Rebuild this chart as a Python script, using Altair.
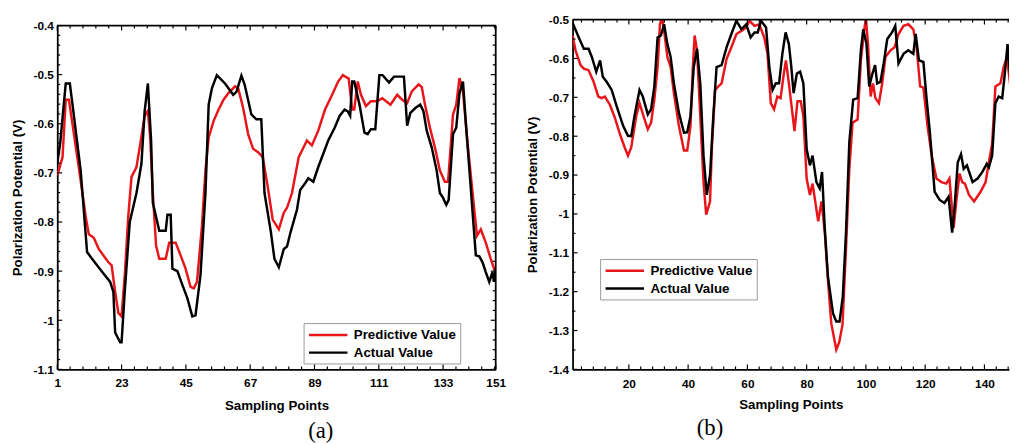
import altair as alt
import pandas as pd

# ---------------- data ----------------
series_names = ["Predictive Value", "Actual Value"]

# panel (a)
a_pred_x = [1, 2.8, 3.9, 5, 6.7, 9, 10.7, 11.8, 13.5, 15.2, 16.8, 18.5, 19.6, 20.8, 21.9, 23, 24.1, 25.3,
            26.4, 28.1, 29.4, 30.9, 32, 32.8, 33.7, 34.8, 35.9, 38.1, 39.3, 41.5, 43.2, 44.9, 46.6, 47.7,
            48.8, 50.5, 51.7, 52.8, 54.5, 56.2, 57.9, 59.5, 61.8, 62.9, 64.6, 66.3, 68, 69.7, 71.3, 73,
            74.7, 76.8, 78.5, 79.6, 81.3, 83.6, 84.7, 86.4, 88.1, 90.3, 92.6, 94.8, 97.1, 98.7, 100.7,
            101.9, 102.6, 103.8, 104.9, 106.6, 108.3, 110.5, 112.2, 115, 117.3, 119, 120.7, 122.3, 124.6,
            125.7, 126.8, 128.5, 130.2, 131.9, 133.6, 134.7, 136.4, 137.5, 138.6, 139.8, 141.4, 143.1,
            144.6, 145.9, 147.6, 149.3, 151]
a_pred_y = [-0.705, -0.668, -0.551, -0.551, -0.621, -0.715, -0.788, -0.825, -0.832, -0.855, -0.868, -0.882,
            -0.888, -0.942, -0.985, -0.992, -0.908, -0.788, -0.708, -0.688, -0.641, -0.584, -0.574, -0.628,
            -0.741, -0.848, -0.875, -0.875, -0.842, -0.842, -0.868, -0.895, -0.932, -0.935, -0.922, -0.808,
            -0.695, -0.628, -0.594, -0.571, -0.551, -0.538, -0.524, -0.528, -0.568, -0.621, -0.651, -0.658,
            -0.668, -0.728, -0.795, -0.815, -0.781, -0.771, -0.741, -0.668, -0.655, -0.634, -0.644, -0.614,
            -0.571, -0.544, -0.514, -0.501, -0.508, -0.571, -0.571, -0.514, -0.541, -0.564, -0.554, -0.554,
            -0.548, -0.561, -0.541, -0.551, -0.558, -0.534, -0.520, -0.525, -0.561, -0.608, -0.648, -0.695,
            -0.718, -0.718, -0.581, -0.561, -0.507, -0.534, -0.641, -0.741, -0.828, -0.815, -0.842, -0.875,
            -0.905]
a_act_x = [1, 2, 3.9, 5.3, 6.2, 9, 11.2, 12.9, 14.6, 16.8, 19.1, 20.2, 20.8, 22.5, 23, 24.1, 25.8, 28.1,
           29.8, 30.9, 32, 33.1, 33.7, 35.9, 38.1, 38.7, 39.8, 40.4, 42.1, 43.8, 45.5, 47.2, 48.3, 50, 51.7,
           52.8, 53.9, 55.6, 58.4, 61.2, 62.3, 64, 65.1, 67.4, 69.1, 70.8, 71.9, 74.1, 75.3, 76.8, 78.5,
           79.6, 80.8, 83, 84.1, 85.8, 86.9, 88.6, 90.3, 92, 93.7, 95.9, 97.6, 99.3, 100.4, 101.2, 101.9,
           102.6, 104.4, 106.1, 107.2, 108.3, 109.8, 111.2, 112.3, 114.5, 116.2, 119.6, 120.7, 121.8, 123.5,
           125.2, 126.3, 127.4, 129.1, 130.8, 131.9, 133, 134.1, 134.9, 136.4, 137.5, 138.6, 139.8, 140.9,
           142.6, 144.2, 145.4, 146.5, 147.6, 148.8, 149.9, 150.4, 151]
a_act_y = [-0.68, -0.64, -0.518, -0.518, -0.56, -0.695, -0.861, -0.875, -0.888, -0.905, -0.922, -0.942,
           -1.025, -1.045, -1.045, -0.941, -0.80, -0.741, -0.681, -0.574, -0.518, -0.634, -0.761, -0.818,
           -0.818, -0.785, -0.785, -0.895, -0.90, -0.928, -0.955, -0.992, -0.99, -0.908, -0.741, -0.561,
           -0.528, -0.501, -0.518, -0.541, -0.535, -0.502, -0.52, -0.581, -0.591, -0.591, -0.741, -0.821,
           -0.875, -0.892, -0.855, -0.85, -0.821, -0.775, -0.735, -0.721, -0.711, -0.718, -0.688, -0.661,
           -0.634, -0.608, -0.584, -0.571, -0.575, -0.584, -0.514, -0.514, -0.561, -0.618, -0.621, -0.611,
           -0.611, -0.501, -0.501, -0.516, -0.504, -0.504, -0.604, -0.578, -0.568, -0.561, -0.575, -0.614,
           -0.648, -0.695, -0.741, -0.751, -0.765, -0.755, -0.621, -0.608, -0.538, -0.514, -0.608, -0.741,
           -0.868, -0.87, -0.882, -0.902, -0.922, -0.902, -0.922, -0.895]

# panel (b)
b_pred_x = [1, 2, 3.7, 4.8, 6.4, 8.1, 9.7, 10.8, 11.9, 13.6, 15.3, 17, 18.6, 19.7, 20.8, 22.5, 23.6, 25.3,
            26.4, 27.5, 28.6, 29.7, 30.5, 31.2, 31.9, 33, 34.1, 35.2, 36.9, 38.6, 39.7, 40.8, 41.6, 42.2,
            43, 44.1, 45.2, 46.1, 47.4, 48, 49.1, 50.2, 51.3, 53, 54.6, 56.3, 58, 59.6, 60.7, 62.4, 64,
            65.7, 66.8, 67.9, 69, 70.1, 71.2, 72.3, 73, 74, 75.9, 76.9, 78, 78.9, 80, 81.1, 82, 83.9, 85,
            86.1, 87.2, 88.3, 90, 91, 92.1, 93.3, 94.4, 95.5, 97.2, 98.3, 99.4, 100, 100.7, 101.6, 102.4,
            103.2, 104.4, 105.5, 106.6, 108.3, 109.7, 111, 112.7, 114.3, 116, 117.1, 118.3, 119.4, 120.8,
            122.2, 123.8, 125.5, 127.1, 128.2, 129.6, 130.5, 131.6, 132.5, 133.4, 134.8, 136.5, 138.7,
            140.4, 141.5, 142.6, 143.7, 145.4, 146.5, 147.6, 148.9]
b_pred_y = [-0.541, -0.579, -0.617, -0.626, -0.63, -0.66, -0.698, -0.702, -0.698, -0.719, -0.753, -0.795,
            -0.829, -0.85, -0.829, -0.748, -0.715, -0.757, -0.782, -0.765, -0.706, -0.622, -0.512, -0.495,
            -0.529, -0.596, -0.622, -0.689, -0.774, -0.837, -0.837, -0.774, -0.622, -0.541, -0.579, -0.748,
            -0.918, -1.002, -0.968, -0.833, -0.681, -0.672, -0.664, -0.601, -0.571, -0.537, -0.529, -0.52,
            -0.503, -0.516, -0.512, -0.546, -0.588, -0.715, -0.731, -0.698, -0.702, -0.639, -0.605, -0.664,
            -0.787, -0.71, -0.71, -0.748, -0.909, -0.951, -0.922, -1.019, -0.968, -1.044, -1.171, -1.281,
            -1.349, -1.33, -1.285, -1.086, -0.884, -0.765, -0.757, -0.605, -0.529, -0.495, -0.563, -0.698,
            -0.664, -0.702, -0.715, -0.664, -0.596, -0.579, -0.571, -0.537, -0.516, -0.512, -0.525, -0.571,
            -0.672, -0.675, -0.774, -0.85, -0.909, -0.918, -0.922, -0.909, -1.036, -0.968, -0.896, -0.918,
            -0.922, -0.951, -0.968, -0.943, -0.918, -0.867, -0.82, -0.672, -0.664, -0.622, -0.596, -0.681]
b_act_x = [1, 3.1, 4.8, 6.4, 7.5, 9, 10.3, 11.2, 12.5, 14.2, 15.9, 18.1, 19.7, 20.8, 21.9, 23.6, 24.7,
           26.4, 27.5, 28.6, 29.7, 30.8, 31.9, 33, 34.1, 35.2, 36.9, 38.6, 39.7, 40.8, 41.9, 43, 44.1, 45.2,
           46.3, 47.4, 48.5, 49.6, 51.3, 53, 54.6, 56.3, 58, 59.6, 61.1, 62.4, 63.5, 64.6, 66.3, 67.4, 68.5,
           69.6, 70.7, 71.8, 72.9, 74, 74.8, 75.6, 76.7, 77.8, 78.9, 80, 81.1, 82, 83.3, 84.4, 85.2, 86.1,
           87.2, 88.9, 90, 91.1, 92.2, 93.3, 94.4, 95.7, 97.2, 98.3, 99.1, 100.2, 101.1, 102.2, 103.1,
           103.8, 104.9, 106, 107.2, 108.8, 109.9, 111, 112.7, 114.3, 116, 116.8, 117.9, 119.4, 120.5,
           121.6, 123.2, 124.9, 126.5, 127.9, 129.1, 129.9, 131, 132.1, 133, 134.1, 136, 137.7, 139.3,
           140.8, 141.5, 142.6, 143.7, 144.8, 146, 147, 147.8, 148.9]
b_act_y = [-0.508, -0.546, -0.575, -0.575, -0.596, -0.634, -0.605, -0.647, -0.66, -0.681, -0.723, -0.774,
           -0.799, -0.80, -0.748, -0.681, -0.698, -0.744, -0.731, -0.672, -0.546, -0.541, -0.512, -0.563,
           -0.596, -0.664, -0.74, -0.791, -0.79, -0.748, -0.622, -0.575, -0.664, -0.85, -0.951, -0.90,
           -0.748, -0.622, -0.617, -0.571, -0.537, -0.503, -0.525, -0.512, -0.546, -0.533, -0.533, -0.503,
           -0.52, -0.622, -0.681, -0.664, -0.664, -0.588, -0.533, -0.563, -0.62, -0.689, -0.639, -0.634,
           -0.664, -0.833, -0.875, -0.85, -0.918, -0.934, -0.892, -1.036, -1.163, -1.256, -1.277, -1.277,
           -1.213, -1.044, -0.816, -0.706, -0.702, -0.579, -0.525, -0.563, -0.672, -0.639, -0.617, -0.664,
           -0.66, -0.613, -0.55, -0.533, -0.516, -0.613, -0.588, -0.579, -0.588, -0.537, -0.605, -0.609,
           -0.706, -0.791, -0.943, -0.964, -0.972, -0.956, -1.048, -0.985, -0.867, -0.846, -0.884, -0.875,
           -0.918, -0.909, -0.892, -0.871, -0.88, -0.85, -0.715, -0.698, -0.702, -0.630, -0.563, -0.664]

# tick labels
a_xticks = [1, 23, 45, 67, 89, 111, 133, 151]
a_yticks = [-1.1, -1.0, -0.9, -0.8, -0.7, -0.6, -0.5, -0.4]
b_xticks = [20, 40, 60, 80, 100, 120, 140]
b_yticks = [-1.4, -1.3, -1.2, -1.1, -1.0, -0.9, -0.8, -0.7, -0.6, -0.5]

a_xminor = [round(1 + 4.4 * k, 2) for k in range(35) if k % 5 != 0]
a_yminor = [round(-1.1 + 0.02 * k, 3) for k in range(36) if k % 5 != 0]
b_xminor = [v for v in range(4, 149, 4) if v % 20 != 0]
b_yminor = [round(-1.4 + 0.05 * k, 3) for k in range(19) if k % 2 != 0]

RED = "#e8161b"
FONT = "Liberation Sans"
SERIF = "Liberation Serif"
FRAME_W = 1.8
H = 355          # view height of both panels


def long_frame(px, py, ax, ay):
    rows = [{"s": x, "v": y, "series": series_names[0]} for x, y in zip(px, py)]
    rows += [{"s": x, "v": y, "series": series_names[1]} for x, y in zip(ax, ay)]
    return pd.DataFrame(rows)


def panel(df, xdom, ydom, top, xticks, xminor, yticks, yminor, W, leg_xy,
          caption, cap_dx, cap_off, xlab_pad, xtitle_pad, right_ticks):
    xs = alt.Scale(domain=xdom, nice=False, zero=False)
    if top:
        ys = alt.Scale(domain=ydom, nice=False, zero=False, range=[H, top])
    else:
        ys = alt.Scale(domain=ydom, nice=False, zero=False)
    xaxis = alt.Axis(values=xticks, ticks=False, grid=False, domain=True,
                     domainColor="black", domainWidth=FRAME_W, labelFlush=False,
                     labelOverlap=False, labelPadding=xlab_pad, title="Sampling Points",
                     titlePadding=xtitle_pad)
    yaxis = alt.Axis(values=yticks, ticks=False, grid=False, domain=True,
                     domainColor="black", domainWidth=FRAME_W, labelFlush=False,
                     labelOverlap=False, labelPadding=4, title="Polarization Potential (V)",
                     titlePadding=9,
                     labelExpr="(datum.value < 0 ? '-' : '') + format(abs(datum.value), '.2~g')")
    lines = alt.Chart(df).mark_line(clip=True, strokeWidth=2.5, interpolate="linear").encode(
        x=alt.X("s:Q", scale=xs, axis=xaxis),
        y=alt.Y("v:Q", scale=ys, axis=yaxis),
        color=alt.Color("series:N",
                        scale=alt.Scale(domain=series_names, range=[RED, "black"]),
                        legend=alt.Legend(orient="none", legendX=leg_xy[0], legendY=leg_xy[1],
                                          title=None, symbolType="M-1,0H5", symbolSize=169,
                                          symbolStrokeWidth=2.5, labelFont=FONT,
                                          labelFontSize=13.5, labelFontWeight="bold",
                                          labelColor="black", strokeColor="#999999",
                                          fillColor="white", padding=4, rowPadding=3,
                                          labelOffset=31)),
        detail="series:N",
    )
    layers = [lines]

    def xrule(vals, y0, y1):
        return alt.Chart(pd.DataFrame({"s": vals})).mark_rule(color="black", strokeWidth=1.2).encode(
            x=alt.X("s:Q", scale=xs, axis=xaxis), y=alt.value(y0), y2=alt.value(y1))

    def yrule(vals, x0, x1):
        return alt.Chart(pd.DataFrame({"v": vals})).mark_rule(color="black", strokeWidth=1.2).encode(
            y=alt.Y("v:Q", scale=ys, axis=yaxis), x=alt.value(x0), x2=alt.value(x1))

    layers += [xrule(xticks, H, H - 5), xrule(xminor, H, H - 3),
               xrule(xticks, top, top + 5), xrule(xminor, top, top + 3),
               yrule(yticks, 0, 5), yrule(yminor, 0, 3)]
    if right_ticks:
        layers += [yrule(yticks, W, W - 5), yrule(yminor, W, W - 3)]
    # frame: top edge, and right edge when visible
    frame_src = pd.DataFrame({"edge": ["top"]})
    layers.append(alt.Chart(frame_src).mark_rule(color="black", strokeWidth=FRAME_W).encode(
        x=alt.value(0), x2=alt.value(W), y=alt.value(top)))
    if right_ticks:
        layers.append(alt.Chart(frame_src).mark_rule(color="black", strokeWidth=FRAME_W).encode(
            x=alt.value(W), y=alt.value(top), y2=alt.value(H)))

    return alt.layer(*layers).properties(
        width=W, height=H,
        title=alt.TitleParams(caption, orient="bottom", anchor="middle", dx=cap_dx, offset=cap_off,
                              baseline="top", font=SERIF, fontSize=23, fontWeight="normal",
                              color="black"))


df_a = long_frame(a_pred_x, a_pred_y, a_act_x, a_act_y)
df_b = long_frame(b_pred_x, b_pred_y, b_act_x, b_act_y)

# panel (a) starts its value range 6 px below the top of its view, as in the figure
pa = panel(df_a, [1, 151], [-1.1, -0.4], 6, a_xticks, a_xminor, a_yticks, a_yminor,
           445, (250, 308), "(a)", 45, 9, 8.5, 10, True)
pb = panel(df_b, [1, 148.3], [-1.4, -0.5], 0, b_xticks, b_xminor, b_yticks, b_yminor,
           443, (28, 243), "(b)", -82, 6, 9, 9, False)

chart = alt.hconcat(pa, pb, spacing=18).resolve_scale(
    color="independent").properties(
    padding={"left": 1, "top": 1.5, "right": 0, "bottom": 0}
).configure_view(stroke="transparent").configure_axis(
    labelFont=FONT, labelFontSize=12, labelFontWeight="bold", labelColor="black",
    titleFont=FONT, titleFontSize=13.5, titleFontWeight="bold", titleColor="black"
)

chart.save("out.html", embed_options={"renderer": "svg", "actions": False})
